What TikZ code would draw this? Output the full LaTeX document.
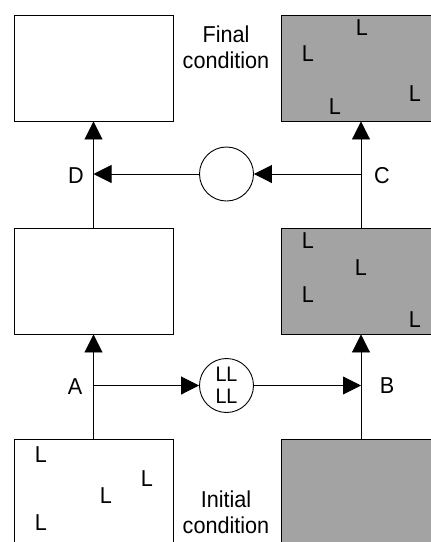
\documentclass[tikz,border=0pt]{standalone}
\usepackage{fontspec}
\setmainfont[FakeStretch=0.94]{Liberation Sans}
\usetikzlibrary{arrows.meta}
\begin{document}
\begin{tikzpicture}[x=1pt,y=-1pt,
  box/.style={draw, line width=0.9pt, minimum width=159pt, minimum height=106pt, inner sep=0pt},
  shaded/.style={box, fill=black!36},
  ring/.style={draw, circle, line width=0.9pt, minimum size=54pt, inner sep=0pt},
  link/.style={line width=0.9pt, -{Triangle[length=18pt,width=18pt]}},
  lbl/.style={font=\fontsize{23}{25.5}\selectfont, inner sep=0pt},
  lmark/.style={lbl, anchor=base}
]
\useasboundingbox (0,0) rectangle (431,542);

% condition boxes: left column white, right column shaded
\node[box] (tl) at (93.5,68) {};
\node[box] (ml) at (93.5,281) {};
\node[box] (bl) at (93.5,492.5) {};
\node[shaded] (tr) at (361,68) {};
\node[shaded] (mr) at (361,281) {};
\node[shaded] (br) at (361,492.5) {};

% exchange circles
\node[ring] (cu) at (226.5,174) {};
\node[ring, font=\fontsize{21}{21.5}\selectfont, align=center] (cl) at (226.5,385.5) {LL\\LL};

% branch points on the vertical flows
\coordinate (ja) at (bl.north |- cl.west);
\coordinate (jb) at (br.north |- cl.east);
\coordinate (jd) at (tl.south |- cu.west);
\coordinate (jc) at (tr.south |- cu.east);

% vertical flows
\draw[link] (bl.north) -- (ml.south);
\draw[link] (ml.north) -- (tl.south);
\draw[link] (br.north) -- (mr.south);
\draw[link] (mr.north) -- (tr.south);

% horizontal transfers
\draw[link] (ja) -- (cl.west);
\draw[link] (cl.east) -- (jb);
\draw[link] (jc) -- (cu.east);
\draw[link] (cu.west) -- (jd);

% point labels
\node[lbl] (la) at (75,387) {A};
\node[lbl] (lb) at (387,386) {B};
\node[lbl] (lc) at (382,176) {C};
\node[lbl] (ld) at (76,176) {D};

% condition captions
\node[lbl, align=center] (fin) at (226,47.5) {Final\\condition};
\node[lbl, align=center] (ini) at (226,512.5) {Initial\\condition};

% L markers, top right box
\node[lmark] (t1) at (362,35) {L};
\node[lmark] (t2) at (308,61) {L};
\node[lmark] (t3) at (415,101) {L};
\node[lmark] (t4) at (335,114) {L};
% L markers, middle right box
\node[lmark] (m1) at (308,248) {L};
\node[lmark] (m2) at (361,275) {L};
\node[lmark] (m3) at (308,302) {L};
\node[lmark] (m4) at (415,327) {L};
% L markers, bottom left box
\node[lmark] (b1) at (41,462) {L};
\node[lmark] (b2) at (147,486) {L};
\node[lmark] (b3) at (106,503) {L};
\node[lmark] (b4) at (41,530) {L};
\end{tikzpicture}
\end{document}
